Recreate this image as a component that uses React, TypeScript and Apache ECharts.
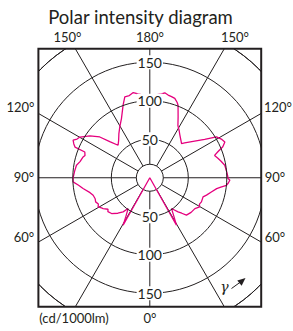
import React, { useEffect, useRef } from "react";
import * as echarts from "echarts";

// gamma angles (deg, 0 = straight down, 180 = straight up) and intensities (cd/1000lm)
const leftAngles = [0, 29.3, 32, 35.2, 38, 42, 46.9, 51, 53, 56.6, 58, 60.5, 63, 66, 69, 72.8, 76, 80.8, 84, 86.9, 90, 95, 99.7, 103, 107.3, 109, 111.6, 112.3, 114, 116.1, 118, 120.2, 125, 129.2, 132, 135.7, 140, 145, 149.4, 154.4, 159.8, 162.8, 166, 169, 172, 175, 180];
const leftValues = [0, 70.8, 58, 49, 56.3, 62, 68, 70, 68, 72.6, 74, 77.1, 75, 77, 76, 77, 80, 87.8, 93, 99.8, 99.6, 98, 96.6, 93, 90.7, 89, 90.8, 105, 108, 110.9, 107, 105, 95, 83.8, 70, 59, 63, 70, 76.6, 85.2, 100.4, 109.8, 110, 112.7, 110, 108, 107];
const rightAngles = [0, 29.3, 33, 35.2, 37, 39.6, 42, 44.4, 50, 55.6, 59.7, 62, 65, 70.2, 73, 77, 80.8, 82.5, 84.4, 86, 88.2, 89.4, 92, 95, 99.5, 103, 106, 109, 111, 113, 115.5, 118, 121.5, 125, 130, 135, 137, 140, 145, 148, 151.7, 155, 158.7, 160, 162.5, 165, 167.5, 170, 172, 176, 180];
const rightValues = [0, 70.8, 55.5, 49, 52, 57.6, 62, 68, 70, 71, 75, 73, 74, 73.5, 77, 82, 88, 93, 100, 102, 104, 101.7, 101, 100, 98.7, 95, 92, 89, 95, 103, 108, 106, 101.5, 87, 73.5, 64, 60.5, 63, 68, 72, 77, 87, 101, 104, 108, 109, 110, 112, 110, 108, 107];

const radiusTicks = [0, 50, 100, 150, 200];
const angleLabelsLeft = ["150°", "120°", "90°", "60°"];
const topLabels = ["150°", "180°", "150°"];
const unitLabel = "(cd/1000lm)";
const bottomLabel = "0°";
const titleText = "Polar intensity diagram";

const INK = "#231f20";
const MAGENTA = "#e5007e";
const FONT = "Lato, 'Open Sans', sans-serif";

export default function App() {
  const ref = useRef<HTMLDivElement>(null);
  useEffect(() => {
    if (!ref.current) return;
    const chart = echarts.init(ref.current, undefined, { renderer: "svg" });
    const cx = 149.8;
    const cy = 177.75;
    const R = 154;
    const box = { x: 38.4, y: 48.8, w: 222.8, h: 257.9 };

    const data: number[][] = [];
    leftAngles.forEach((a, i) => data.push([leftValues[i], a]));
    for (let i = rightAngles.length - 1; i >= 0; i--) data.push([rightValues[i], 360 - rightAngles[i]]);

    const rMax = radiusTicks[radiusTicks.length - 1];
    const rInt = radiusTicks[1] - radiusTicks[0];

    const sideLabelY = [107, 176.5, 236.7];
    const txt = (text: string, x: number, y: number, size: number, align = "center", extra: any = {}) => ({
      type: "text",
      z: 21,
      x,
      y,
      style: { text, fill: INK, font: `${size}px ${FONT}`, align, verticalAlign: "middle", ...extra },
    });

    const graphics: any[] = [
      { type: "circle", z: 1, shape: { cx, cy, r: 13.5 }, style: { fill: "#fff", stroke: INK, lineWidth: 1 } },
      { type: "rect", z: 20, shape: { x: 0, y: 0, width: 293, height: box.y }, style: { fill: "#fff" } },
      { type: "rect", z: 20, shape: { x: 0, y: box.y + box.h, width: 293, height: 331 - box.y - box.h }, style: { fill: "#fff" } },
      { type: "rect", z: 20, shape: { x: 0, y: 0, width: box.x, height: 331 }, style: { fill: "#fff" } },
      { type: "rect", z: 20, shape: { x: box.x + box.w, y: 0, width: 293 - box.x - box.w, height: 331 }, style: { fill: "#fff" } },
      { type: "rect", z: 21, shape: { x: box.x, y: box.y, width: box.w, height: box.h }, style: { fill: "none", stroke: INK, lineWidth: 2 } },
      txt(titleText, 140.5, 17, 18.5),
      txt(topLabels[0], 67.5, 37, 13),
      txt(topLabels[1], 150, 37, 13),
      txt(topLabels[2], 235, 37, 13),
      txt(angleLabelsLeft[1], 20.5, sideLabelY[0], 13),
      txt(angleLabelsLeft[2], 24, sideLabelY[1], 13),
      txt(angleLabelsLeft[3], 24, sideLabelY[2], 13),
      txt(angleLabelsLeft[1], 278, sideLabelY[0], 13),
      txt(angleLabelsLeft[2], 275, sideLabelY[1], 13),
      txt(angleLabelsLeft[3], 275, sideLabelY[2], 13),
      txt(unitLabel, 74, 318, 13),
      txt(bottomLabel, 150, 318, 13),
      txt("γ", 224.5, 286.5, 14, "center", { font: `italic 14px 'DejaVu Serif', serif` }),
      { type: "line", z: 21, shape: { x1: 231.5, y1: 288.5, x2: 240.5, y2: 282 }, style: { stroke: INK, lineWidth: 1 } },
      { type: "polygon", z: 21, shape: { points: [[245.5, 278], [237.3, 280.6], [241.6, 285.8]] }, style: { fill: INK } },
    ];

    const radiusCommon = (showLabels: boolean, showSplit: boolean) => ({
      type: "value",
      min: 0,
      max: rMax,
      interval: rInt,
      z: 5,
      axisLine: { show: false },
      axisTick: { show: false },
      splitLine: { show: showSplit, lineStyle: { color: INK, width: 1 } },
      axisLabel: {
        show: showLabels,
        showMinLabel: false,
        showMaxLabel: false,
        margin: 0,
        align: "center",
        verticalAlign: "middle",
        backgroundColor: "#fff",
        padding: [0, 1],
        color: INK,
        fontSize: 14,
        fontFamily: FONT,
      },
    });

    chart.setOption({
      animation: false,
      polar: [
        { center: [cx, cy], radius: [0, R] },
        { center: [cx, cy], radius: [0, R] },
      ],
      angleAxis: [
        {
          polarIndex: 0,
          type: "value",
          min: 0,
          max: 360,
          interval: 30,
          startAngle: 270,
          clockwise: true,
          z: 0,
          axisLine: { show: true, lineStyle: { color: INK, width: 1 } },
          axisTick: { show: false },
          axisLabel: { show: false },
          splitLine: { show: true, lineStyle: { color: INK, width: 1 } },
        },
        {
          polarIndex: 1,
          type: "value",
          min: 0,
          max: 360,
          interval: 30,
          startAngle: 90,
          clockwise: true,
          axisLine: { show: false },
          axisTick: { show: false },
          axisLabel: { show: false },
          splitLine: { show: false },
        },
      ],
      radiusAxis: [
        { polarIndex: 0, ...radiusCommon(true, true) },
        { polarIndex: 1, ...radiusCommon(true, false) },
      ],
      series: [
        {
          type: "line",
          coordinateSystem: "polar",
          polarIndex: 0,
          data,
          z: 4,
          symbol: "none",
          lineStyle: { color: MAGENTA, width: 1.3 },
        },
      ],
      graphic: graphics,
    });
    return () => chart.dispose();
  }, []);
  return <div ref={ref} style={{ position: "absolute", left: 0, top: 0, width: 293, height: 331 }} />;
}
